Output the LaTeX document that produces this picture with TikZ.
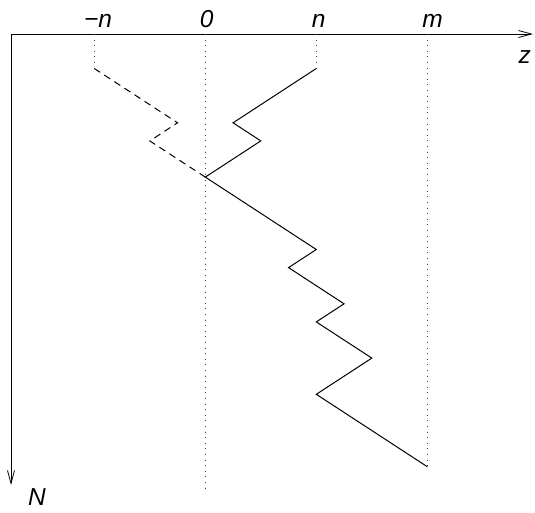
\documentclass[tikz,border=0pt]{standalone}
\usepackage{fontspec}
\setmainfont{Liberation Sans}
\usetikzlibrary{arrows.meta}
\begin{document}
\begin{tikzpicture}[x=1pt,y=-1pt,
  axis/.style={line width=1pt,-{Straight Barb[length=13pt,width=7pt,line width=0.8pt]}},
  guide/.style={line width=0.9pt,dash pattern=on 0.9pt off 4.7pt,black!75},
  walk/.style={line width=1pt,line join=miter},
  mirror/.style={line width=1pt,dash pattern=on 7pt off 5pt},
  lbl/.style={font=\fontsize{24.5}{28}\selectfont\itshape,inner sep=0pt,anchor=base}]
\useasboundingbox (0,0) rectangle (535,512);
% axes
\coordinate (O) at (11,34);
\coordinate (zend) at (533,34);
\coordinate (Nend) at (11,485);
\draw[axis] (O) -- (zend);
\draw[axis] (O) -- (Nend);
% walk points
\begin{scope}[shift={(205.3,68.5)},x=27.75pt,y=-18.1pt]
  \coordinate (a0) at (4,0);
  \coordinate (a1) at (1,3);
  \coordinate (a2) at (2,4);
  \coordinate (z0) at (0,6);
  \coordinate (b1) at (4,10);
  \coordinate (b2) at (3,11);
  \coordinate (b3) at (5,13);
  \coordinate (b4) at (4,14);
  \coordinate (b5) at (6,16);
  \coordinate (b6) at (4,18);
  \coordinate (b7) at (8,22);
  \coordinate (c0) at (-4,0);
  \coordinate (c1) at (-1,3);
  \coordinate (c2) at (-2,4);
  \coordinate (zb) at (0,23.4);
\end{scope}
% guides
\draw[guide] (c0 |- O) -- (c0);
\draw[guide] (z0 |- O) -- (zb);
\draw[guide] (a0 |- O) -- (a0);
\draw[guide] (b7 |- O) -- (b7);
% paths
\draw[walk] (a0) -- (a1) -- (a2) -- (z0) -- (b1) -- (b2) -- (b3) -- (b4) -- (b5) -- (b6) -- (b7);
\draw[mirror] (c0) -- (c1) -- (c2) -- (z0);
% labels
\node[lbl] (lmn) at (98,27.3) {−n};
\node[lbl] (l0) at (206.7,27.3) {0};
\node[lbl] (ln) at (318.8,27.3) {n};
\node[lbl] (lm) at (432.5,27.3) {m};
\node[lbl] (lz) at (524.7,63.3) {z};
\node[lbl] (lN) at (37,505) {N};
\end{tikzpicture}
\end{document}
